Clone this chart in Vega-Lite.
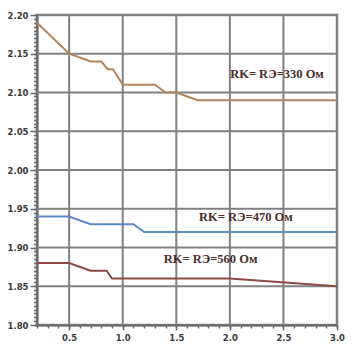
{
  "$schema": "https://vega.github.io/schema/vega-lite/v6.json",
  "width": 300,
  "height": 310,
  "autosize": {"type": "none"},
  "padding": {"left": 37, "top": 15, "right": 23, "bottom": 25},
  "background": "white",
  "config": {
    "view": {"stroke": "#7f7f7f", "strokeWidth": 2.5},
    "axis": {
      "labelFont": "DejaVu Sans",
      "labelFontWeight": "bold",
      "labelFontSize": 8.5,
      "labelColor": "#3a3a3a",
      "domainColor": "#6a6a6a",
      "domainWidth": 2,
      "tickColor": "#6a6a6a",
      "tickWidth": 1.5,
      "title": null
    }
  },
  "datasets": {
    "xgrid": [{"gx": 0.5}, {"gx": 1.0}, {"gx": 1.5}, {"gx": 2.0}, {"gx": 2.5}],
    "ygrid": [{"gy": 1.85}, {"gy": 1.9}, {"gy": 1.95}, {"gy": 2.0}, {"gy": 2.05}, {"gy": 2.1}, {"gy": 2.15}],
    "lines": [
      {"series": "330", "x": 0.2, "y": 2.19},
      {"series": "330", "x": 0.5, "y": 2.15},
      {"series": "330", "x": 0.7, "y": 2.14},
      {"series": "330", "x": 0.8, "y": 2.14},
      {"series": "330", "x": 0.86, "y": 2.13},
      {"series": "330", "x": 0.91, "y": 2.13},
      {"series": "330", "x": 1.0, "y": 2.11},
      {"series": "330", "x": 1.3, "y": 2.11},
      {"series": "330", "x": 1.4, "y": 2.1},
      {"series": "330", "x": 1.5, "y": 2.1},
      {"series": "330", "x": 1.7, "y": 2.09},
      {"series": "330", "x": 3.0, "y": 2.09},
      {"series": "470", "x": 0.2, "y": 1.94},
      {"series": "470", "x": 0.5, "y": 1.94},
      {"series": "470", "x": 0.7, "y": 1.93},
      {"series": "470", "x": 1.1, "y": 1.93},
      {"series": "470", "x": 1.2, "y": 1.92},
      {"series": "470", "x": 3.0, "y": 1.92},
      {"series": "560", "x": 0.2, "y": 1.88},
      {"series": "560", "x": 0.5, "y": 1.88},
      {"series": "560", "x": 0.7, "y": 1.87},
      {"series": "560", "x": 0.85, "y": 1.87},
      {"series": "560", "x": 0.9, "y": 1.86},
      {"series": "560", "x": 2.0, "y": 1.86},
      {"series": "560", "x": 3.0, "y": 1.85}
    ],
    "labels": [
      {"x": 2.44, "y": 2.124, "text": "RK= RЭ=330 Ом"},
      {"x": 2.15, "y": 1.94, "text": "RK= RЭ=470 Ом"},
      {"x": 1.82, "y": 1.885, "text": "RK= RЭ=560 Ом"}
    ]
  },
  "resolve": {"axis": {"x": "independent", "y": "independent"}},
  "layer": [
    {
      "data": {"name": "xgrid"},
      "mark": {"type": "rect", "fill": "#808080", "stroke": "#808080", "strokeWidth": 2},
      "encoding": {
        "x": {"field": "gx", "type": "quantitative", "axis": null, "scale": {"domain": [0.2, 3.0], "nice": false, "zero": false}},
        "x2": {"field": "gx"}
      }
    },
    {
      "data": {"name": "ygrid"},
      "mark": {"type": "rect", "fill": "#808080", "stroke": "#808080", "strokeWidth": 2},
      "encoding": {
        "y": {"field": "gy", "type": "quantitative", "axis": null, "scale": {"domain": [1.8, 2.2], "nice": false, "zero": false}},
        "y2": {"field": "gy"}
      }
    },
    {
      "data": {"name": "lines"},
      "mark": {"type": "line", "strokeWidth": 2},
      "encoding": {
        "x": {
          "field": "x", "type": "quantitative",
          "scale": {"domain": [0.2, 3.0], "nice": false, "zero": false},
          "axis": {
            "orient": "bottom",
            "grid": false,
            "tickCount": 6,
            "format": ".1f",
            "tickSize": 5,
            "labelPadding": 3,
            "labelFlush": false,
            "labelOverlap": false
          }
        },
        "y": {
          "field": "y", "type": "quantitative",
          "scale": {"domain": [1.8, 2.2], "nice": false, "zero": false},
          "axis": {
            "orient": "left",
            "grid": false,
            "tickCount": 8,
            "format": ".2f",
            "tickSize": 7,
            "labelPadding": 2,
            "labelFlush": false,
            "labelOverlap": false
          }
        },
        "color": {
          "field": "series", "type": "nominal",
          "scale": {"domain": ["330", "470", "560"], "range": ["#B5845A", "#5F88C6", "#8E4848"]},
          "legend": null
        }
      }
    },
    {
      "data": {"name": "labels"},
      "mark": {"type": "text", "font": "Liberation Serif", "fontSize": 12.5, "fontWeight": "bold", "color": "#4a2e2c", "align": "center", "baseline": "middle"},
      "encoding": {
        "x": {
          "field": "x", "type": "quantitative",
          "axis": {
            "orient": "bottom",
            "grid": false,
            "labels": false,
            "domain": false,
            "tickSize": 3,
            "tickCount": 28
          }
        },
        "y": {
          "field": "y", "type": "quantitative",
          "axis": {
            "orient": "left",
            "grid": false,
            "labels": false,
            "domain": false,
            "tickSize": 3.5,
            "tickCount": 80
          }
        },
        "text": {"field": "text", "type": "nominal"}
      }
    }
  ]
}
